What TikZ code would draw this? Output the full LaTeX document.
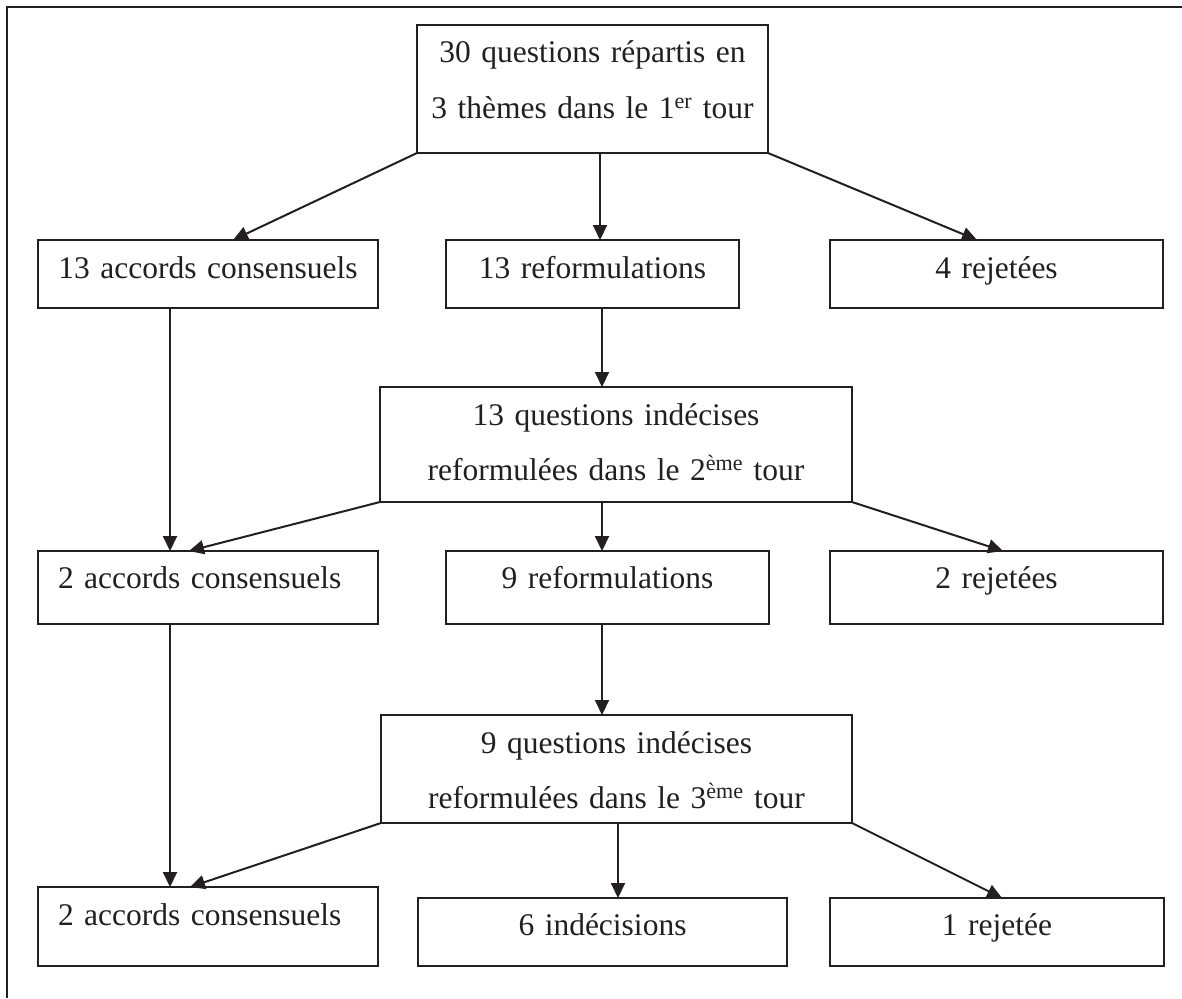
\documentclass[tikz,border=0pt]{standalone}
\usepackage{fontspec}
\setmainfont{Liberation Serif}
\usetikzlibrary{arrows.meta,calc}
\definecolor{ink}{HTML}{231F20}
\begin{document}
\begin{tikzpicture}[x=1pt,y=-1pt,
  every node/.style={font=\fontsize{31.5}{55}\selectfont, text=ink},
  box/.style={draw=ink, line width=2pt, rectangle, inner sep=0pt, outer sep=0pt,
    anchor=north west, align=center},
  conn/.style={draw=ink, line width=2pt, -{Triangle[length=15pt,width=14pt]}}]
\useasboundingbox (0,0) rectangle (1182,998);
\draw[ink, line width=2pt] (7,998) -- (7,7) -- (1182,7);

% top
\node[box, text width=351pt, text height=38pt, text depth=90pt] (top) at (417,25)
  {30 questions répartis en\\3 thèmes dans le 1\textsuperscript{er} tour};
% row 1
\node[box, text width=340pt, text height=38pt, text depth=30pt] (b1) at (38,240) {13 accords consensuels};
\node[box, text width=293pt, text height=38pt, text depth=30pt] (b2) at (446,240) {13 reformulations};
\node[box, text width=333pt, text height=38pt, text depth=30pt] (b3) at (830,240) {4 rejetées};
% middle 1
\node[box, text width=472pt, text height=38pt, text depth=77pt] (m1) at (380,387)
  {13 questions indécises\\reformulées dans le 2\textsuperscript{ème} tour};
% row 2
\node[box, text width=340pt, text height=37pt, text depth=36pt, align=left] (a2) at (38,551) {\hspace*{20pt}2 accords consensuels};
\node[box, text width=323pt, text height=37pt, text depth=36pt] (r2) at (446,551) {9 reformulations};
\node[box, text width=333pt, text height=37pt, text depth=36pt] (c2) at (830,551) {2 rejetées};
% middle 2
\node[box, text width=471pt, text height=38pt, text depth=70pt] (m2) at (381,715)
  {9 questions indécises\\reformulées dans le 3\textsuperscript{ème} tour};
% row 3
\node[box, text width=340pt, text height=38pt, text depth=41pt, align=left] (a3) at (38,887) {\hspace*{20pt}2 accords consensuels};
\node[box, text width=369pt, text height=37pt, text depth=31pt] (d3) at (418,898) {6 indécisions};
\node[box, text width=334pt, text height=37pt, text depth=31pt] (e3) at (830,898) {1 rejetée};

% connectors
\draw[conn] (top.south west) -- ($(b1.north west)+(195,0)$);
\draw[conn] ($(top.south west)+(183,0)$) -- ($(b2.north west)+(154,0)$);
\draw[conn] (top.south east) -- ($(b3.north west)+(147,0)$);
\draw[conn] ($(b1.south west)+(132,0)$) -- ($(a2.north west)+(132,0)$);
\draw[conn] ($(b2.south west)+(156,0)$) -- ($(m1.north west)+(222,0)$);
\draw[conn] (m1.south west) -- ($(a2.north west)+(151,0)$);
\draw[conn] ($(m1.south west)+(222,0)$) -- ($(r2.north west)+(156,0)$);
\draw[conn] (m1.south east) -- ($(c2.north west)+(173,0)$);
\draw[conn] ($(a2.south west)+(132,0)$) -- ($(a3.north west)+(132,0)$);
\draw[conn] ($(r2.south west)+(156,0)$) -- ($(m2.north west)+(221,0)$);
\draw[conn] (m2.south west) -- ($(a3.north west)+(152,0)$);
\draw[conn] ($(m2.south west)+(237,0)$) -- ($(d3.north west)+(200,0)$);
\draw[conn] (m2.south east) -- ($(e3.north west)+(172,0)$);
\end{tikzpicture}
\end{document}
